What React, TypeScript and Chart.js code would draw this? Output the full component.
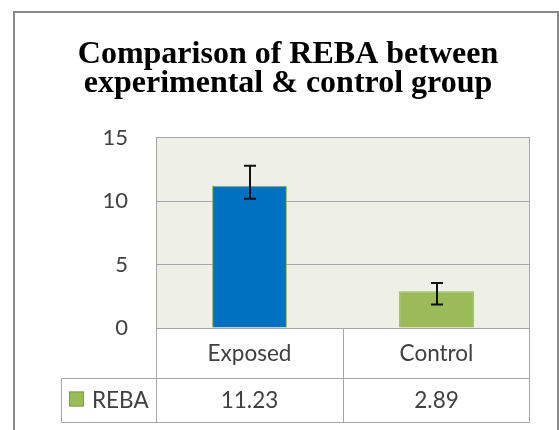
import React, { useEffect, useRef } from "react";
import { Chart, registerables } from "chart.js";

Chart.register(...registerables);

// ---- data ----
const titleLines = ["Comparison of REBA between", "experimental & control group"];
const categories = ["Exposed", "Control"];
const seriesName = "REBA";
const rebaValues = [11.23, 2.89];
const errorHigh = [12.8, 3.55];
const errorLow = [10.2, 1.85];
const yTickMin = 0;
const yTickMax = 15;
const yTickStep = 5;

// ---- styles ----
const barFill = ["#0070C0", "#9BBB59"];
const seriesColor = "#9BBB59";
const textColor = "#404040";
const lineGray = "#A6A6A6";

const overlayPlugin = {
  id: "frameAndTable",
  beforeDraw(chart: any) {
    const { ctx, chartArea: a } = chart;
    ctx.save();
    ctx.fillStyle = "#ffffff";
    ctx.fillRect(0, 0, chart.width, chart.height);
    ctx.strokeStyle = "#8A8A8A";
    ctx.lineWidth = 2;
    ctx.strokeRect(14, 12, 544, 440);
    ctx.fillStyle = "#EEF0E8";
    ctx.fillRect(a.left, a.top, a.right - a.left, a.bottom - a.top);
    ctx.restore();
  },
  afterDatasetsDraw(chart: any) {
    const { ctx } = chart;
    const y = chart.scales.y;
    const meta = chart.getDatasetMeta(0);
    ctx.save();
    ctx.strokeStyle = "#111111";
    ctx.lineWidth = 2;
    meta.data.forEach((bar: any, i: number) => {
      const cx = Math.round(bar.x);
      const yHi = y.getPixelForValue(errorHigh[i]);
      const yLo = y.getPixelForValue(errorLow[i]);
      ctx.beginPath();
      ctx.moveTo(cx, yHi);
      ctx.lineTo(cx, yLo);
      ctx.moveTo(cx - 6, yHi);
      ctx.lineTo(cx + 6, yHi);
      ctx.moveTo(cx - 6, yLo);
      ctx.lineTo(cx + 6, yLo);
      ctx.stroke();
    });
    ctx.restore();
  },
  afterDraw(chart: any) {
    const { ctx, chartArea: a } = chart;
    const x = chart.scales.x;
    const L = Math.round(a.left) + 0.5;
    const R = Math.round(a.right) - 0.5;
    const top = Math.round(a.bottom) + 0.5;
    const rowMid = top + 50;
    const bottom = top + 94;
    const keyLeft = 61.5;
    ctx.save();
    ctx.strokeStyle = lineGray;
    ctx.lineWidth = 1;
    ctx.beginPath();
    ctx.moveTo(R, a.top);
    ctx.lineTo(R, bottom);
    ctx.moveTo(L, a.top);
    ctx.lineTo(L, bottom);
    ctx.moveTo(L, top);
    ctx.lineTo(R, top);
    ctx.moveTo(keyLeft, rowMid);
    ctx.lineTo(R, rowMid);
    ctx.moveTo(keyLeft, bottom);
    ctx.lineTo(R, bottom);
    ctx.moveTo(keyLeft, rowMid);
    ctx.lineTo(keyLeft, bottom);
    for (let i = 0; i < categories.length - 1; i++) {
      const m = Math.round((x.getPixelForValue(i) + x.getPixelForValue(i + 1)) / 2) + 0.5;
      ctx.moveTo(m, top);
      ctx.lineTo(m, bottom);
    }
    ctx.stroke();

    ctx.fillStyle = textColor;
    ctx.font = "22.5px Lato";
    ctx.textAlign = "center";
    ctx.textBaseline = "middle";
    categories.forEach((c, i) => {
      const cx = x.getPixelForValue(i);
      ctx.fillText(c, cx, top + 25);
      ctx.fillText(rebaValues[i].toFixed(2), cx, rowMid + 22);
    });
    // legend key
    ctx.fillStyle = seriesColor;
    ctx.fillRect(69, rowMid + 13, 15, 15);
    ctx.strokeStyle = "#7E9E45";
    ctx.strokeRect(69.5, rowMid + 13.5, 14, 14);
    ctx.fillStyle = textColor;
    ctx.textAlign = "left";
    ctx.fillText(seriesName, 92, rowMid + 22);
    ctx.restore();
  },
};

export default function App() {
  const ref = useRef<HTMLCanvasElement | null>(null);
  useEffect(() => {
    if (!ref.current) return;
    const chart = new Chart(ref.current, {
      type: "bar",
      data: {
        labels: categories,
        datasets: [
          {
            label: seriesName,
            data: rebaValues,
            backgroundColor: barFill,
            borderColor: "#93B35A",
            borderWidth: 1,
            barPercentage: 0.4,
            categoryPercentage: 1.0,
          },
        ],
      },
      options: {
        animation: false,
        responsive: false,
        devicePixelRatio: 1,
        layout: { padding: { top: 0, left: 17, right: 0, bottom: 102 } },
        plugins: {
          legend: { display: false },
          tooltip: { enabled: false },
          title: {
            display: true,
            text: titleLines,
            color: "#000000",
            font: { family: "'Liberation Serif', 'Times New Roman', serif", size: 32, weight: "bold", lineHeight: 0.92 },
            padding: { top: 40, bottom: 39 },
          },
        },
        scales: {
          x: { type: "category", display: false, offset: true },
          y: {
            type: "linear",
            min: yTickMin,
            max: yTickMax,
            ticks: { stepSize: yTickStep, color: textColor, font: { family: "Lato", size: 22 }, padding: 28 },
            grid: { color: lineGray, lineWidth: 1, drawTicks: false },
            border: { display: true, color: lineGray },
            afterFit: (s: any) => {
              s.width = 139;
            },
          },
          y2: {
            type: "linear",
            position: "right",
            display: true,
            grid: { display: false },
            ticks: { display: false },
            border: { display: false },
            afterFit: (s: any) => {
              s.width = 29;
            },
          },
        },
      },
      plugins: [overlayPlugin],
    });
    return () => chart.destroy();
  }, []);
  return (
    <div style={{ position: "absolute", left: 0, top: 0, width: 559, height: 430 }}>
      <canvas ref={ref} width={559} height={430} />
    </div>
  );
}
